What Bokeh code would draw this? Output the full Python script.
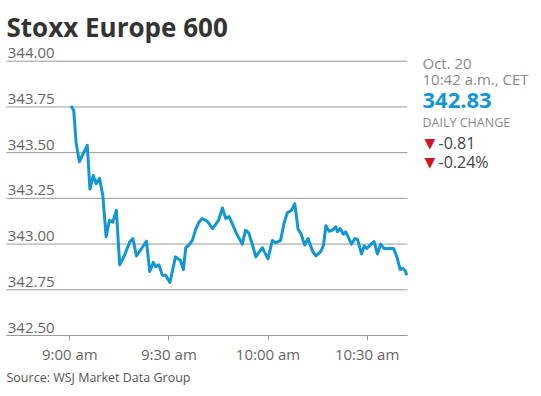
from bokeh.plotting import figure
from bokeh.models import ColumnDataSource, FixedTicker, Label, Range1d, Title
from bokeh.core.properties import value
from bokeh.embed import file_html
from bokeh.resources import INLINE

# ---- data (minutes after 9:00 am, index level) ----
minutes = [0.4, 1.2, 1.9, 2.9, 4.2, 5.3, 6.1, 7.1, 8.0, 9.0,
           10.0, 11.0, 12.0, 13.0, 14.1, 15.1, 16.6, 18.1,
           19.1, 20.2, 21.9, 23.2, 24.2, 25.3, 26.0, 27.0, 28.0, 29.0,
           30.3, 32.0, 33.5, 34.4, 35.1, 36.1, 37.1, 38.1, 39.1, 40.1,
           41.6, 43.2, 45.0, 46.2, 47.2, 48.2, 49.2, 50.4, 52.2, 53.2,
           54.2, 55.3, 56.3, 58.3, 58.8, 60.0, 61.3, 62.3, 63.8, 64.8,
           65.8, 67.1, 68.1, 69.1, 69.9, 71.1, 72.1, 73.5, 74.5, 76.0,
           76.8, 77.5, 78.5, 79.5, 80.5, 81.0, 81.8, 82.8, 83.5, 84.5,
           85.3, 86.3, 87.1, 88.3, 89.1, 89.9, 90.9, 92.1, 93.1, 94.1,
           95.1, 96.7, 98.0, 99.0, 100.0, 100.7, 101.5, 102.0]
price = [343.755, 343.73, 343.556, 343.45, 343.50, 343.54, 343.30, 343.375, 343.33, 343.36,
         343.266, 343.04, 343.13, 343.12, 343.185, 342.886, 342.94, 343.01,
         343.03, 342.935, 342.98, 343.016, 342.85, 342.90, 342.877, 342.886, 342.83, 342.83,
         342.79, 342.93, 342.91, 342.86, 342.98, 342.995, 343.02, 343.08, 343.12, 343.14,
         343.125, 343.085, 343.13, 343.197, 343.14, 343.15, 343.11, 343.06, 343.00, 343.076,
         343.06, 342.995, 342.93, 342.98, 342.96, 342.92, 343.02, 343.007, 343.02, 343.11,
         343.17, 343.185, 343.22, 343.08, 343.06, 342.995, 343.03, 342.96, 342.935, 342.96,
         342.995, 343.10, 343.07, 343.076, 343.094, 343.067, 343.085, 343.054, 343.067, 343.03,
         343.00, 343.03, 343.025, 342.946, 342.99, 342.976, 342.995, 343.013, 342.946, 343.00,
         342.976, 342.976, 342.976, 342.93, 342.86, 342.868, 342.855, 342.83]

y_ticks = [342.50, 342.75, 343.00, 343.25, 343.50, 343.75, 344.00]
y_tick_labels = ["342.50", "342.75", "343.00", "343.25", "343.50", "343.75", "344.00"]
x_ticks = [0, 30, 60, 90]
x_tick_labels = ["9:00 am", "9:30 am", "10:00 am", "10:30 am"]

title_text = "Stoxx Europe 600"
date_text = "Oct. 20"
time_text = "10:42 a.m., CET"
last_value = "342.83"
change_title = "DAILY CHANGE"
change_abs = "-0.81"
change_pct = "-0.24%"
source_text = "Source: WSJ Market Data Group"

# ---- layout constants ----
FONT = "Open Sans"
BLUE = "#1296d4"
GRID = "#9a9a9a"
X_START, X_END = -20.97, 142.77        # full canvas width
GRID_X0, GRID_X1 = -19.16, 102.2       # extent of the chart area
Y_START, Y_END = 342.5, 344.332
LABEL_X = -4.6                          # right edge of y labels

p = figure(width=541, height=396, output_backend="svg", toolbar_location=None,
           x_range=Range1d(X_START, X_END), y_range=Range1d(Y_START, Y_END),
           y_axis_location=None, min_border_left=0, min_border_top=0,
           min_border_right=0, min_border_bottom=61)
p.outline_line_color = None
p.background_fill_color = "white"
p.border_fill_color = "white"
p.xgrid.visible = False
p.ygrid.visible = False

# horizontal gridlines over the chart area only
gsrc = ColumnDataSource(dict(x0=[GRID_X0] * len(y_ticks), x1=[GRID_X1] * len(y_ticks), y=y_ticks))
p.segment(x0="x0", x1="x1", y0="y", y1="y", source=gsrc, line_color=GRID, line_width=1)

ax = p.xaxis[0]
ax.bounds = (GRID_X0, GRID_X1)
ax.ticker = FixedTicker(ticks=x_ticks)
ax.major_label_overrides = {t: l for t, l in zip(x_ticks, x_tick_labels)}
ax.axis_line_color = GRID
ax.major_tick_line_color = GRID
ax.major_tick_in = 0
ax.major_tick_out = 5
ax.minor_tick_line_color = None
ax.major_label_standoff = 3
ax.major_label_text_font = FONT
ax.major_label_text_font_size = "15px"
ax.major_label_text_color = "#666666"

# y labels sitting above their gridlines
ysrc = ColumnDataSource(dict(x=[LABEL_X] * len(y_ticks), y=y_ticks, t=y_tick_labels))
p.text(x="x", y="y", text="t", source=ysrc, text_align="right", text_baseline="alphabetic",
       y_offset=-8, text_font=value(FONT), text_font_size="15px", text_color="#666666")

src = ColumnDataSource(dict(x=minutes, y=price))
p.line("x", "y", source=src, line_color=BLUE, line_width=3, line_join="round")

FB = 335  # frame bottom in window pixels

def lab(text, x, y, size, color, style="normal", font=FONT):
    p.add_layout(Label(text=text, x=x, y=FB - y, x_units="screen", y_units="screen",
                       text_font=font, text_font_size=size, text_color=color,
                       text_font_style=style, text_baseline="alphabetic", text_align="left"))

lab(title_text, 6, 26, "26px", "#333333", "bold")
lab(date_text, 422, 62, "15px", "#8a8a8a")
lab(time_text, 422, 78, "15px", "#8a8a8a")
lab(last_value, 422, 100, "22px", BLUE, "bold")
lab(change_title, 422, 122, "12.5px", "#8a8a8a")
lab("\u25BC", 424, 142, "14px", "#d0161e", font="DejaVu Sans")
lab(change_abs, 438, 142, "16px", "#444444")
lab("\u25BC", 424, 161, "14px", "#d0161e", font="DejaVu Sans")
lab(change_pct, 438, 161, "16px", "#444444")

p.add_layout(Title(text=source_text, align="left", text_font=FONT, text_font_size="12.5px",
                   text_font_style="normal", text_color="#555555", offset=6, standoff=0), "below")

open("out.html", "w").write(file_html(p, INLINE))
